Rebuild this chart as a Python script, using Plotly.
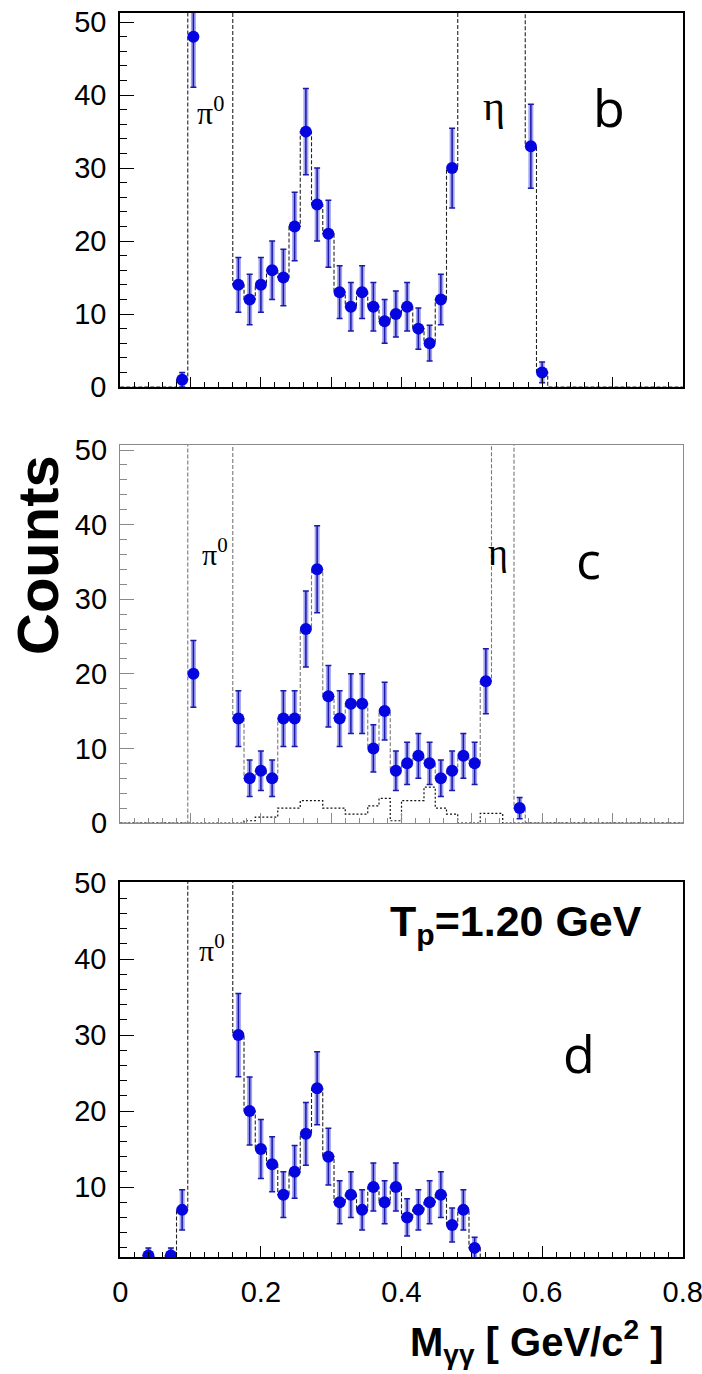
import plotly.graph_objects as go
import numpy as np

W, H = 702, 1374

# ---------------- data ----------------
bin_edges = [round(0.016 * i, 3) for i in range(51)]   # 50 bins, 0 .. 0.8

# panel b
x_b = [0.088, 0.104, 0.168, 0.184, 0.200, 0.216, 0.232, 0.248, 0.264, 0.280, 0.296, 0.312,
       0.328, 0.344, 0.360, 0.376, 0.392, 0.408, 0.424, 0.440, 0.456, 0.472, 0.584, 0.600]
n_b = [1, 48, 14, 12, 14, 16, 15, 22, 35, 25, 21, 13, 11, 13, 11, 9, 10, 11, 8, 6, 12, 30, 33, 2]
hist_b = [0, 0, 0, 0, 0, 1, 80, 80, 80, 80,
          14, 12, 14, 16, 15, 22, 35, 25, 21, 13,
          11, 13, 11, 9, 10, 11, 8, 6, 12, 30,
          80, 80, 80, 80, 80, 80, 33, 2, 0, 0,
          0, 0, 0, 0, 0, 0, 0, 0, 0, 0]

# panel c
x_c = [0.104, 0.168, 0.184, 0.200, 0.216, 0.232, 0.248, 0.264, 0.280, 0.296, 0.312, 0.328,
       0.344, 0.360, 0.376, 0.392, 0.408, 0.424, 0.440, 0.456, 0.472, 0.488, 0.504, 0.520, 0.568]
n_c = [20, 14, 6, 7, 6, 14, 14, 26, 34, 17, 14, 16, 16, 10, 15, 7, 8, 9, 8, 6, 7, 9, 8, 19, 2]
hist_c = [0, 0, 0, 0, 0, 0, 80, 80, 80, 80,
          14, 6, 7, 6, 14, 14, 26, 34, 17, 14,
          16, 16, 10, 15, 7, 8, 9, 8, 6, 7,
          9, 8, 19, 80, 80, 2, 0, 0, 0, 0,
          0, 0, 0, 0, 0, 0, 0, 0, 0, 0]
bkg_c = [0, 0, 0, 0, 0, 0, 0, 0, 0, 0,
         0, 0.3, 0.8, 0.8, 2.0, 2.0, 3.0, 3.0, 2.0, 2.0,
         1.2, 1.2, 2.3, 3.3, 0.3, 3.0, 3.0, 4.8, 2.0, 1.2,
         0, 0, 1.3, 1.3, 0, 0, 0, 0, 0, 0,
         0, 0, 0, 0, 0, 0, 0, 0, 0, 0]

# panel d
x_d = [0.040, 0.072, 0.088, 0.168, 0.184, 0.200, 0.216, 0.232, 0.248, 0.264, 0.280, 0.296,
       0.312, 0.328, 0.344, 0.360, 0.376, 0.392, 0.408, 0.424, 0.440, 0.456, 0.472, 0.488, 0.504]
n_d = [1, 1, 7, 30, 20, 15, 13, 9, 12, 17, 23, 14, 8, 9, 7, 10, 8, 10, 6, 7, 8, 9, 5, 7, 2]
hist_d = [0, 0, 1, 0, 1, 7, 80, 80, 80, 80,
          30, 20, 15, 13, 9, 12, 17, 23, 14, 8,
          9, 7, 10, 8, 10, 6, 7, 8, 9, 5,
          7, 2, 0, 0, 0, 0, 0, 0, 0, 0,
          0, 0, 0, 0, 0, 0, 0, 0, 0, 0]

x_ticks = [0, 0.2, 0.4, 0.6, 0.8]
x_ticklabels = ["0", "0.2", "0.4", "0.6", "0.8"]

# ---------------- layout geometry ----------------
X0, X1 = 120, 683
XR = [-0.0004, 0.8004]
panels = {
    "b": dict(top=12.7, bottom=387, yr=[0, 51.3], frame="black", hist_color="#222222"),
    "c": dict(top=445, bottom=823, yr=[0, 50.67], frame="#8a8a8a", hist_color="#777777"),
    "d": dict(top=882, bottom=1257, yr=[0.8, 50.13], frame="black", hist_color="#222222"),
}
axis_ids = {"b": ("x", "y"), "c": ("x2", "y2"), "d": ("x3", "y3")}

fig = go.Figure()

MARK = "#0505e0"
LIGHT = "rgba(85,85,235,0.55)"
DARK = "#1a1aa8"


def add_panel(key, xs, ns, hist, bkg=None):
    xa, ya = axis_ids[key]
    hc = panels[key]["hist_color"]
    yh = list(hist) + [hist[-1]]
    fig.add_trace(go.Scatter(x=bin_edges, y=yh, mode="lines", line_shape="hv",
                             line=dict(color=hc, width=1.1, dash="4px,2px"),
                             xaxis=xa, yaxis=ya, showlegend=False, hoverinfo="skip"))
    if bkg is not None:
        yb = list(bkg) + [bkg[-1]]
        fig.add_trace(go.Scatter(x=bin_edges, y=yb, mode="lines", line_shape="hv",
                                 line=dict(color="#111111", width=1.2, dash="2px,2px"),
                                 xaxis=xa, yaxis=ya, showlegend=False, hoverinfo="skip"))
    err = [float(np.sqrt(v)) for v in ns]
    fig.add_trace(go.Scatter(x=xs, y=ns, mode="markers",
                             marker=dict(size=2, color=LIGHT, opacity=0),
                             error_y=dict(type="data", array=err, color=LIGHT, thickness=5, width=0),
                             xaxis=xa, yaxis=ya, showlegend=False, hoverinfo="skip"))
    fig.add_trace(go.Scatter(x=xs, y=ns, mode="markers",
                             marker=dict(size=12, color=MARK),
                             error_y=dict(type="data", array=err, color=DARK, thickness=1.5, width=3),
                             xaxis=xa, yaxis=ya, showlegend=False))


add_panel("b", x_b, n_b, hist_b)
add_panel("c", x_c, n_c, hist_c, bkg_c)
add_panel("d", x_d, n_d, hist_d)

tickfont = dict(family="Liberation Sans, Arial, sans-serif", size=29, color="black")

layout = dict(
    width=W, height=H, margin=dict(l=0, r=0, t=0, b=0, autoexpand=False),
    paper_bgcolor="white", plot_bgcolor="white", showlegend=False,
)

for key, (xa, ya) in axis_ids.items():
    p = panels[key]
    xname = "xaxis" if xa == "x" else "xaxis" + xa[1:]
    yname = "yaxis" if ya == "y" else "yaxis" + ya[1:]
    ydom = [1 - p["bottom"] / H, 1 - p["top"] / H]
    last = key == "d"
    xax = dict(domain=[X0 / W, X1 / W], range=XR, anchor=ya, automargin=False,
               showgrid=False, zeroline=False, showline=True, mirror=True,
               linecolor=p["frame"], linewidth=1.6 if p["frame"] == "black" else 1.2,
               ticks="inside", tickcolor=p["frame"], tickwidth=1,
               tickfont=tickfont, ticklabeloverflow="allow")
    if last:
        xax.update(tickmode="array", tickvals=x_ticks, ticktext=x_ticklabels, ticklen=11,
                   showticklabels=True, ticklabelstandoff=8,
                   minor=dict(dtick=0.02, tick0=0, ticklen=5, ticks="inside", tickcolor=p["frame"]))
    else:
        xax.update(tickmode="linear", tick0=0, dtick=0.1, ticklen=10, showticklabels=False,
                   minor=dict(dtick=0.02, tick0=0, ticklen=5, ticks="inside", tickcolor=p["frame"]))
    yax = dict(domain=ydom, range=p["yr"], anchor=xa, automargin=False,
               showgrid=False, zeroline=False, showline=True, mirror=True,
               linecolor=p["frame"], linewidth=1.6 if p["frame"] == "black" else 1.2,
               ticks="inside", tickcolor=p["frame"], ticklen=14, tickwidth=1,
               tickmode="linear", tick0=0, dtick=10, tickfont=tickfont, ticklabelstandoff=6,
               minor=dict(dtick=2, tick0=0, ticklen=7, ticks="inside", tickcolor=p["frame"]))
    layout[xname] = xax
    layout[yname] = yax

fig.update_layout(**layout)

serif = "Liberation Serif, Times New Roman, serif"
sans = "Open Sans, DejaVu Sans, sans-serif"
bold = "Liberation Sans, Arial, sans-serif"

annots = [
    # panel b
    dict(x=0.129, y=37.8, xref="x", yref="y", text="π<sup>0</sup>", font=dict(family=serif, size=32)),
    dict(x=0.531, y=38.5, xref="x", yref="y", text="η", font=dict(family=serif, size=42)),
    dict(x=0.695, y=38.5, xref="x", yref="y", text="b", font=dict(family=sans, size=52)),
    # panel c
    dict(x=0.135, y=36.3, xref="x2", yref="y2", text="π<sup>0</sup>", font=dict(family=serif, size=30)),
    dict(x=0.537, y=36.3, xref="x2", yref="y2", text="η", font=dict(family=serif, size=38)),
    dict(x=0.666, y=35.4, xref="x2", yref="y2", text="c", font=dict(family=sans, size=52)),
    # panel d
    dict(x=0.131, y=41.5, xref="x3", yref="y3", text="π<sup>0</sup>", font=dict(family=serif, size=30)),
    dict(x=0.563, y=44.6, xref="x3", yref="y3", text="<b>T<sub>p</sub>=1.20 GeV</b>",
         font=dict(family=bold, size=43)),
    dict(x=0.652, y=27.7, xref="x3", yref="y3", text="d", font=dict(family=sans, size=52)),
    # axis titles
    dict(x=37 / W, y=1 - 555 / H, xref="paper", yref="paper", text="<b>Counts</b>", textangle=-90,
         font=dict(family=bold, size=58)),
    dict(x=536 / W, y=1 - 1342 / H, xref="paper", yref="paper",
         text="<b>M<sub>γγ</sub> [ GeV/c<sup>2</sup> ]</b>", font=dict(family=bold, size=40)),
]
for a in annots:
    a.setdefault("showarrow", False)
    a.setdefault("xanchor", "center")
    a.setdefault("yanchor", "middle")
    a["font"].setdefault("color", "black")
fig.update_layout(annotations=annots)

fig.write_html("out.html")
